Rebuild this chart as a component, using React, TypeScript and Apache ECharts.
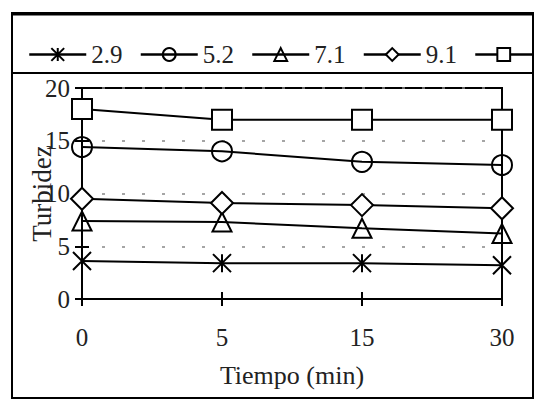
import React, { useEffect, useRef } from 'react';
import * as echarts from 'echarts';

const categories = ['0', '5', '15', '30'];
const seriesNames = ['2.9', '5.2', '7.1', '9.1', '11.0'];
const values29 = [3.6, 3.4, 3.4, 3.2];
const values52 = [14.4, 14.0, 13.0, 12.7];
const values71 = [7.4, 7.3, 6.7, 6.2];
const values91 = [9.5, 9.1, 8.9, 8.6];
const values11 = [18, 17, 17, 17];
const yMin = 0;
const yMax = 20;
const yInterval = 5;

const FONT = "'Liberation Serif', 'Times New Roman', serif";
const ASTERISK = 'path://M0,0L10,10M10,0L0,10M5,0L5,10';

export default function App() {
  const ref = useRef<HTMLDivElement>(null);
  useEffect(() => {
    if (!ref.current) return;
    const chart = echarts.init(ref.current, undefined, { renderer: 'svg' });
    const allValues = [values29, values52, values71, values91, values11];
    const symbols = [ASTERISK, 'circle', 'triangle', 'diamond', 'rect'];
    const sizes = [18, 20, 19, 22, 20];
    const fills = ['none', 'none', 'none', '#fff', '#fff'];
    const lastName = seriesNames[seriesNames.length - 1];
    const series = allValues.map((vals, i) => ({
      name: seriesNames[i],
      type: 'line',
      xAxisIndex: 0,
      yAxisIndex: 0,
      data: vals,
      symbol: symbols[i],
      symbolSize: sizes[i],
      showAllSymbol: true,
      lineStyle: { color: '#000', width: 2 },
      itemStyle: { color: fills[i], borderColor: '#000', borderWidth: 2 },
      z: 3,
    }));
    chart.setOption({
      animation: false,
      backgroundColor: '#fff',
      textStyle: { fontFamily: FONT },
      graphic: [
        { type: 'rect', shape: { x: 12, y: 13, width: 521, height: 385 }, style: { fill: 'none', stroke: '#000', lineWidth: 2 }, z: 10 },
        { type: 'line', shape: { x1: 12, y1: 14, x2: 533, y2: 14 }, style: { stroke: '#000', lineWidth: 3 }, z: 10 },
        { type: 'line', shape: { x1: 12, y1: 73, x2: 533, y2: 73 }, style: { stroke: '#000', lineWidth: 2 }, z: 10 },
      ],
      legend: {
        left: 23,
        top: 37,
        width: 900,
        itemWidth: 57,
        itemHeight: 16,
        itemGap: 17,
        data: seriesNames,
        formatter: (name: string) => (name === lastName ? '' : name),
        textStyle: { fontFamily: FONT, fontSize: 25, color: '#222' },
        lineStyle: { width: 2.5 },
      },
      grid: {
        left: 82,
        right: 33,
        top: 88,
        bottom: 101,
        show: true,
        borderColor: '#000',
        borderWidth: 2,
        backgroundColor: 'transparent',
      },
      xAxis: [
        {
          type: 'category',
          data: categories,
          boundaryGap: false,
          name: 'Tiempo (min)',
          nameLocation: 'middle',
          nameGap: 63,
          nameTextStyle: { fontFamily: FONT, fontSize: 26, color: '#222' },
          axisLine: { lineStyle: { color: '#000', width: 2 } },
          axisTick: { show: true, length: 7, lineStyle: { color: '#000', width: 2 }, alignWithLabel: true },
          axisLabel: { fontFamily: FONT, fontSize: 25, color: '#222', margin: 26 },
          splitLine: { show: false },
        },
        {
          type: 'category',
          data: categories,
          boundaryGap: false,
          position: 'bottom',
          axisLine: { show: false },
          axisTick: { show: true, inside: true, length: 7, lineStyle: { color: '#000', width: 2 } },
          axisLabel: { show: false },
          splitLine: { show: false },
        },
      ],
      yAxis: [
        {
          type: 'value',
          min: yMin,
          max: yMax,
          interval: yInterval,
          name: 'Turbidez',
          nameLocation: 'middle',
          nameGap: 27,
          nameMoveOverlap: false,
          nameTextStyle: { fontFamily: FONT, fontSize: 27, color: '#222' },
          axisLine: { show: true, lineStyle: { color: '#000', width: 2 } },
          axisTick: { show: true, length: 7, lineStyle: { color: '#000', width: 2 } },
          axisLabel: { fontFamily: FONT, fontSize: 25, color: '#222', margin: 12 },
          splitLine: { show: true, lineStyle: { color: '#888', width: 1.5, type: [3, 17] } },
        },
        {
          type: 'value',
          min: yMin,
          max: yMax,
          interval: yInterval,
          position: 'left',
          axisLine: { show: false },
          axisTick: { show: true, inside: true, length: 7, lineStyle: { color: '#000', width: 2 } },
          axisLabel: { show: false },
          splitLine: { show: false },
        },
      ],
      series,
    });
    return () => chart.dispose();
  }, []);
  return <div ref={ref} style={{ position: 'fixed', left: 0, top: 0, width: 535, height: 400 }} />;
}
